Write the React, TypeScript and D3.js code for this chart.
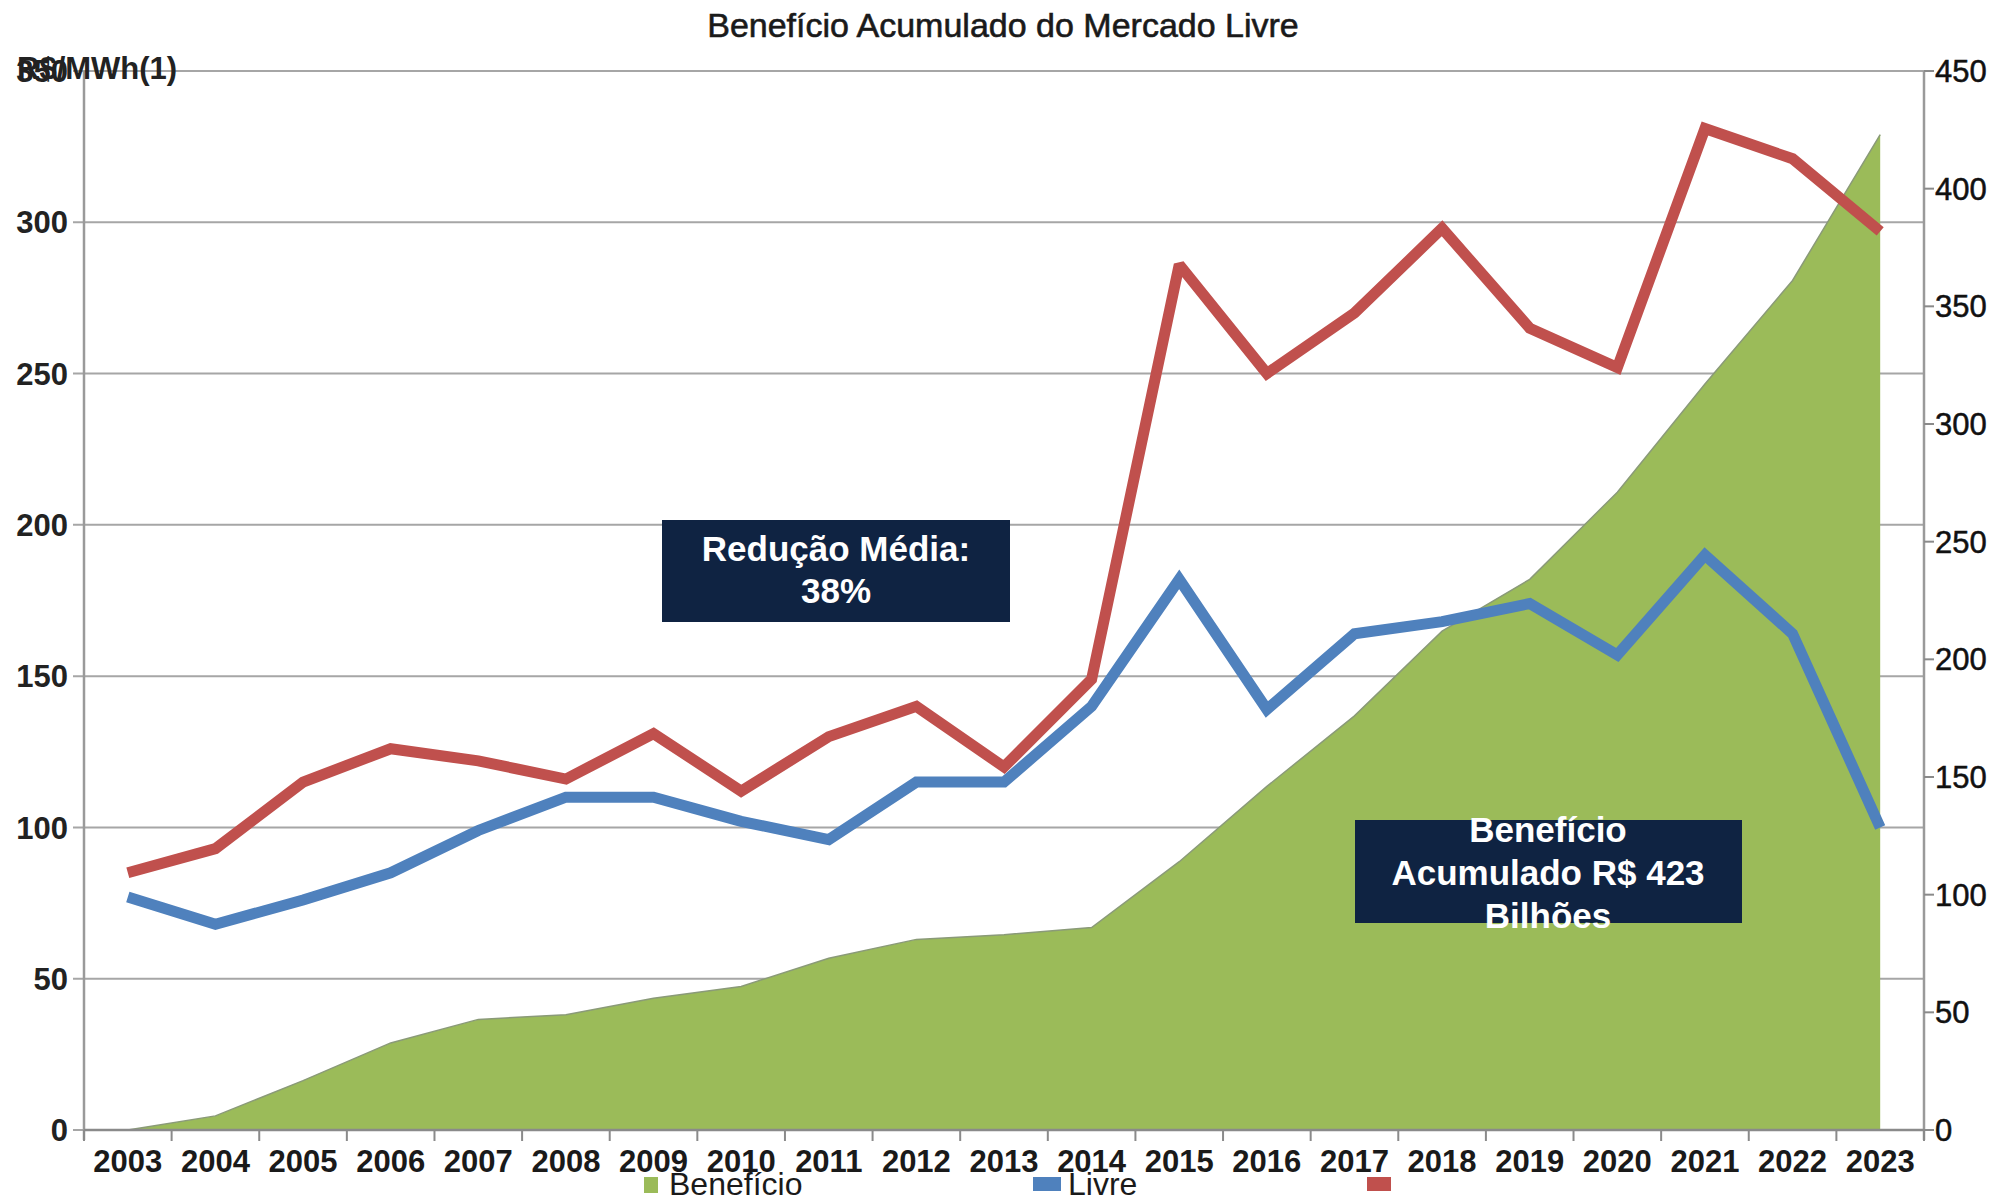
import React from 'react';
import * as d3 from 'd3';

const years = ['2003', '2004', '2005', '2006', '2007', '2008', '2009', '2010', '2011', '2012', '2013',
  '2014', '2015', '2016', '2017', '2018', '2019', '2020', '2021', '2022', '2023'];

// accumulated benefit, R$ bilhões (right axis)
const beneficio = [0, 6, 21, 37, 47, 49, 56, 61, 73, 81, 83, 86, 114, 146, 176, 212, 234, 271, 317, 361, 423];
// free market price, R$/MWh (left axis)
const livre = [77, 68, 76, 85, 99, 110, 110, 102, 96, 115, 115, 140, 182, 139, 164, 168, 174, 157, 190, 164, 100];
// regulated market price, R$/MWh (left axis)
const cativo = [85, 93, 115, 126, 122, 116, 131, 112, 130, 140, 120, 149, 286, 250, 270, 298, 265, 252, 331, 321, 297];

const leftTicks = [0, 50, 100, 150, 200, 250, 300, 350];
const rightTicks = [0, 50, 100, 150, 200, 250, 300, 350, 400, 450];

const W = 1998;
const H = 1200;
const plot = { left: 84, right: 1924, top: 71, bottom: 1130 };

const GREEN = '#9bbb59';
const BLUE = '#4f81bd';
const RED = '#c0504d';
const NAVY = '#0f2342';
const FONT = '"Liberation Sans", Arial, sans-serif';

export default function App() {
  const x = d3.scaleBand().domain(years).range([plot.left, plot.right]).padding(0);
  const cx = (yr: string) => (x(yr) || 0) + x.bandwidth() / 2;
  const yL = d3.scaleLinear().domain([0, 350]).range([plot.bottom, plot.top]);
  const yR = d3.scaleLinear().domain([0, 450]).range([plot.bottom, plot.top]);

  const area = d3.area<number>()
    .x((_, i) => cx(years[i]))
    .y0(yR(0))
    .y1(d => yR(d));
  const topEdge = d3.line<number>().x((_, i) => cx(years[i])).y(d => yR(d));
  const line = d3.line<number>().x((_, i) => cx(years[i])).y(d => yL(d));

  const boundaries = years.map(yr => x(yr) || 0).concat([plot.right]);

  return (
    <svg width={W} height={H} style={{ position: 'absolute', left: 0, top: 0, background: '#fff' }}
      fontFamily={FONT}>
      <rect width={W} height={H} fill="#fff" />

      <text x={1003} y={37} textAnchor="middle" fontSize={34} fill="#1a1a1a" stroke="#1a1a1a" strokeWidth={0.6}>
        Benefício Acumulado do Mercado Livre
      </text>

      {/* gridlines + left ticks */}
      {leftTicks.map(t => (
        <line key={'g' + t} x1={plot.left - 11} x2={plot.right} y1={yL(t)} y2={yL(t)}
          stroke="#a6a6a6" strokeWidth={2} />
      ))}

      {/* accumulated benefit area */}
      <path d={area(beneficio) || ''} fill={GREEN} />
      <path d={topEdge(beneficio) || ''} fill="none" stroke="#8a9a78" strokeWidth={1.5} />

      {/* axes */}
      <line x1={plot.left} x2={plot.left} y1={plot.top} y2={plot.bottom + 10} stroke="#9a9a9a" strokeWidth={2.5} />
      <line x1={plot.right} x2={plot.right} y1={plot.top} y2={plot.bottom + 10} stroke="#9a9a9a" strokeWidth={2.5} />
      <line x1={plot.left} x2={plot.right} y1={plot.bottom} y2={plot.bottom} stroke="#8a8a8a" strokeWidth={2.5} />
      {boundaries.map((b, i) => (
        <line key={'xt' + i} x1={b} x2={b} y1={plot.bottom} y2={plot.bottom + 11} stroke="#8a8a8a" strokeWidth={2} />
      ))}
      {rightTicks.map(t => (
        <line key={'rt' + t} x1={plot.right} x2={plot.right + 10} y1={yR(t)} y2={yR(t)} stroke="#8a8a8a" strokeWidth={2} />
      ))}

      {/* left tick labels */}
      {leftTicks.map(t => (
        <text key={'lt' + t} x={68} y={yL(t)} dy="0.36em" textAnchor="end" fontSize={31}
          fontWeight="bold" fill="#222">{t}</text>
      ))}
      <text x={17} y={79} fontSize={31} fontWeight="bold" fill="#222">R$/MWh(1)</text>

      {/* right tick labels */}
      {rightTicks.map(t => (
        <text key={'rl' + t} x={1935} y={yR(t)} dy="0.36em" fontSize={31} fill="#111"
          stroke="#111" strokeWidth={0.5}>{t}</text>
      ))}

      {/* x labels */}
      {years.map(yr => (
        <text key={'xl' + yr} x={cx(yr)} y={1172} textAnchor="middle" fontSize={31}
          fontWeight="bold" fill="#1a1a1a">{yr}</text>
      ))}

      {/* price lines */}
      <path d={line(livre) || ''} fill="none" stroke={BLUE} strokeWidth={11} strokeLinejoin="miter" strokeMiterlimit={2} />
      <path d={line(cativo) || ''} fill="none" stroke={RED} strokeWidth={11} strokeLinejoin="miter" strokeMiterlimit={2} />

      {/* annotations */}
      <rect x={662} y={520} width={348} height={102} fill={NAVY} />
      <text x={836} y={561} textAnchor="middle" fontSize={35} fontWeight="bold" fill="#fff">Redução Média:</text>
      <text x={836} y={603} textAnchor="middle" fontSize={35} fontWeight="bold" fill="#fff">38%</text>

      <rect x={1355} y={820} width={387} height={103} fill={NAVY} />
      <text x={1548} y={842} textAnchor="middle" fontSize={35} fontWeight="bold" fill="#fff">Benefício</text>
      <text x={1548} y={885} textAnchor="middle" fontSize={35} fontWeight="bold" fill="#fff">Acumulado R$ 423</text>
      <text x={1548} y={928} textAnchor="middle" fontSize={35} fontWeight="bold" fill="#fff">Bilhões</text>

      {/* legend */}
      <rect x={644} y={1177} width={14} height={16} fill={GREEN} />
      <text x={669} y={1195} fontSize={32} fill="#1a1a1a">Benefício</text>
      <rect x={1033} y={1177} width={28} height={14} fill={BLUE} />
      <text x={1068} y={1195} fontSize={32} fill="#1a1a1a">Livre</text>
      <rect x={1367} y={1177} width={24} height={14} fill={RED} />
    </svg>
  );
}
